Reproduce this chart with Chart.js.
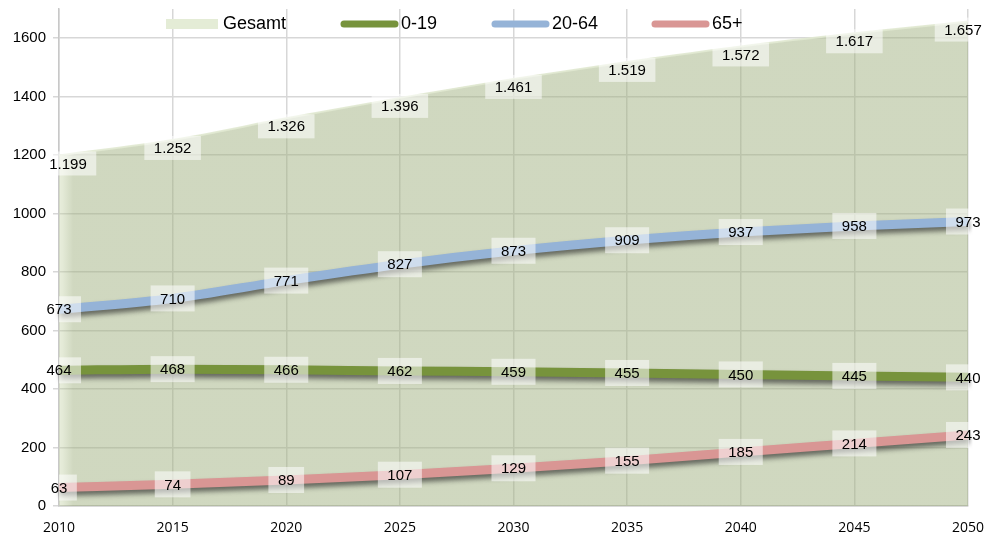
<!DOCTYPE html>
<html>
<head>
<meta charset="utf-8">
<script src="https://cdn.jsdelivr.net/npm/chart.js@4"></script>
<style>
  html, body { margin: 0; padding: 0; background: #fff; }
  #wrap { width: 987px; height: 534px; }
</style>
</head>
<body>
<div id="wrap"><canvas id="popChart" width="987" height="534"></canvas></div>
<script>
// Values
const years = ['2010', '2015', '2020', '2025', '2030', '2035', '2040', '2045', '2050'];
const gesamt = [1199, 1252, 1326, 1396, 1461, 1519, 1572, 1617, 1657];
const age0to19 = [464, 468, 466, 462, 459, 455, 450, 445, 440];
const age20to64 = [673, 710, 771, 827, 873, 909, 937, 958, 973];
const age65plus = [63, 74, 89, 107, 129, 155, 185, 214, 243];
const yTicks = [0, 200, 400, 600, 800, 1000, 1200, 1400, 1600];

const legendItems = [
    { text: 'Gesamt', color: 'rgb(228,236,214)', kind: 'rect', x: 166 },
    { text: '0-19', color: 'rgb(119,147,60)', kind: 'line', x: 341 },
    { text: '20-64', color: 'rgb(149,179,215)', kind: 'line', x: 492 },
    { text: '65+', color: 'rgb(217,150,148)', kind: 'line', x: 652 }
];

function fmt(v) {
    // German thousands separator
    return v >= 1000 ? Math.floor(v / 1000) + '.' + String(v % 1000).padStart(3, '0') : String(v);
}

// area fill with a lighter strip at the left edge
function areaFill(context) {
    const chart = context.chart;
    const area = chart.chartArea;
    if (!area) return 'rgba(161,177,129,0.5)';
    const g = chart.ctx.createLinearGradient(area.left, 0, area.left + 14, 0);
    g.addColorStop(0, 'rgba(200,214,170,0.4)');
    g.addColorStop(1, 'rgba(161,177,129,0.5)');
    return g;
}

// shadow under the thick lines
const shadowPlugin = {
    id: 'lineShadow',
    beforeDatasetDraw(chart, args) {
        const ds = chart.data.datasets[args.index];
        if (!ds.shadow) return;
        const ctx = chart.ctx;
        ctx.save();
        ctx.shadowColor = 'rgba(30,30,30,0.6)';
        ctx.shadowBlur = 5;
        ctx.shadowOffsetX = 1;
        ctx.shadowOffsetY = 4;
    },
    afterDatasetDraw(chart, args) {
        const ds = chart.data.datasets[args.index];
        if (!ds.shadow) return;
        chart.ctx.restore();
    }
};

// value boxes + legend
const labelPlugin = {
    id: 'valueBoxes',
    afterDatasetsDraw(chart) {
        const ctx = chart.ctx;
        const area = chart.chartArea;
        ctx.save();
        ctx.font = '15px "Liberation Sans", Arial, sans-serif';
        ctx.textAlign = 'center';
        ctx.textBaseline = 'middle';
        chart.data.datasets.forEach((ds, i) => {
            const meta = chart.getDatasetMeta(i);
            meta.data.forEach((pt, j) => {
                const txt = fmt(ds.data[j]);
                const tw = ctx.measureText(txt).width;
                let tx = pt.x;
                let ty = pt.y;
                let bw = tw + 19;
                let bh = 26;
                let clipL = area.left;
                let clipR = area.right + 1;
                if (ds.isTotal) {
                    ty = pt.y + 8;
                    bh = 24;
                    tx = Math.min(Math.max(tx, 68), 963);
                    clipL = 48;
                }
                let bx0 = Math.max(tx - bw / 2, clipL);
                let bx1 = Math.min(tx + bw / 2, clipR);
                ctx.fillStyle = 'rgba(255,255,255,0.55)';
                ctx.fillRect(bx0, ty - bh / 2, bx1 - bx0, bh);
                ctx.fillStyle = '#000';
                ctx.fillText(txt, tx, ty + 1);
            });
        });
        ctx.restore();
    },
    afterDraw(chart) {
        const ctx = chart.ctx;
        ctx.save();
        ctx.font = '18px "Liberation Sans", Arial, sans-serif';
        ctx.textBaseline = 'middle';
        ctx.textAlign = 'left';
        legendItems.forEach(item => {
            if (item.kind === 'rect') {
                ctx.fillStyle = item.color;
                ctx.fillRect(item.x, 19, 52, 10);
                ctx.fillStyle = '#000';
                ctx.fillText(item.text, item.x + 57, 24);
            } else {
                ctx.strokeStyle = item.color;
                ctx.lineWidth = 7;
                ctx.lineCap = 'round';
                ctx.beginPath();
                ctx.moveTo(item.x + 3, 24);
                ctx.lineTo(item.x + 54, 24);
                ctx.stroke();
                ctx.fillStyle = '#000';
                ctx.fillText(item.text, item.x + 60, 24);
            }
        });
        ctx.restore();
    }
};

const ctx = document.getElementById('popChart').getContext('2d');
new Chart(ctx, {
    type: 'line',
    data: {
        labels: years,
        datasets: [
            {
                label: 'Gesamt',
                data: gesamt,
                isTotal: true,
                fill: 'origin',
                backgroundColor: areaFill,
                borderColor: 'rgba(225,233,210,0.9)',
                borderWidth: 2,
                pointRadius: 0,
                cubicInterpolationMode: 'monotone',
                order: 10
            },
            {
                label: '0-19',
                data: age0to19,
                shadow: true,
                fill: false,
                borderColor: 'rgb(119,147,60)',
                borderWidth: 9,
                pointRadius: 0,
                cubicInterpolationMode: 'monotone',
                order: 3
            },
            {
                label: '20-64',
                data: age20to64,
                shadow: true,
                fill: false,
                borderColor: 'rgb(149,179,215)',
                borderWidth: 9,
                pointRadius: 0,
                cubicInterpolationMode: 'monotone',
                order: 2
            },
            {
                label: '65+',
                data: age65plus,
                shadow: true,
                fill: false,
                borderColor: 'rgb(217,150,148)',
                borderWidth: 9,
                pointRadius: 0,
                cubicInterpolationMode: 'monotone',
                order: 1
            }
        ]
    },
    options: {
        responsive: false,
        animation: false,
        layout: { padding: { top: 9, right: 19, left: 0, bottom: 0 } },
        plugins: {
            legend: { display: false },
            tooltip: { enabled: false }
        },
        scales: {
            x: {
                offset: false,
                grid: { color: 'rgb(215,215,215)', lineWidth: 1.5, tickLength: 0, drawTicks: false },
                border: { color: 'rgb(200,200,200)', width: 1.5 },
                ticks: {
                    color: '#000',
                    font: { family: '"Open Sans", sans-serif', size: 14 },
                    padding: 14,
                    maxRotation: 0
                },
                afterFit(scale) {
                    scale.height = 28;
                    scale.paddingLeft = 0;
                    scale.paddingRight = 0;
                }
            },
            y: {
                min: 0,
                max: 1700,
                afterBuildTicks(scale) {
                    scale.ticks = yTicks.map(v => ({ value: v }));
                },
                grid: { color: 'rgb(215,215,215)', lineWidth: 1.5, tickLength: 6 },
                border: { color: 'rgb(200,200,200)', width: 1.5 },
                ticks: {
                    color: '#000',
                    font: { family: '"Liberation Sans", Arial, sans-serif', size: 15 },
                    padding: 7,
                    callback: v => String(v)
                },
                afterFit(scale) {
                    scale.width = 59;
                    scale.paddingTop = 0;
                    scale.paddingBottom = 0;
                }
            }
        }
    },
    plugins: [shadowPlugin, labelPlugin]
});
</script>
</body>
</html>
